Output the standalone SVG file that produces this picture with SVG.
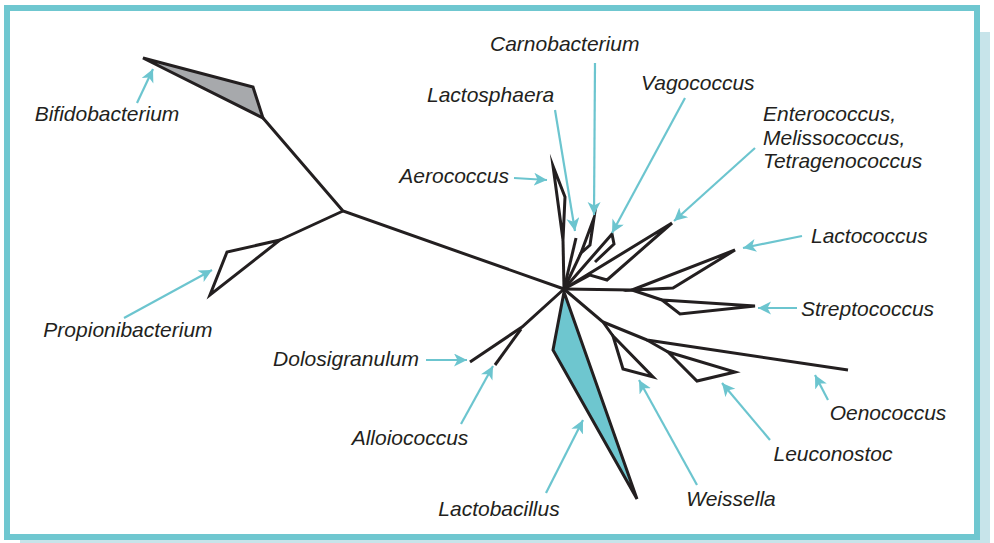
<svg xmlns="http://www.w3.org/2000/svg" width="994" height="543" viewBox="0 0 994 543">
<style>
.br{fill:none;stroke:#231f20;stroke-width:3;stroke-linejoin:miter;stroke-miterlimit:10}
.wd{fill:#fff;stroke:#231f20;stroke-width:3;stroke-linejoin:miter;stroke-miterlimit:10}
.lb{font-family:"Liberation Sans",Arial,Helvetica,sans-serif;font-style:italic;font-size:21px;fill:#231f20}
.m{text-anchor:middle}
.e{text-anchor:end}
.ar{fill:none;stroke:#6cc5cf;stroke-width:2.2;marker-end:url(#ah)}
</style>
<defs>
<marker id="ah" markerUnits="userSpaceOnUse" markerWidth="16" markerHeight="14" refX="13" refY="6.5" orient="auto">
<path d="M0,0 L13,6.5 L0,13 L3.5,6.5 Z" fill="#6cc5cf"/>
</marker>
</defs>
<rect width="994" height="543" fill="#fff"/>
<g id="frame">
<rect x="20" y="32" width="970" height="511" fill="#c7e4ea"/>
<rect x="7" y="8" width="970" height="529" fill="#fff" stroke="#6fc7d0" stroke-width="6"/>
</g>
<g id="trunk">
<polyline class="br" points="263,118 343,211 564,289"/>
<line class="br" x1="343" y1="211" x2="280" y2="240"/>
</g>
<g id="bifidobacterium">
<polygon points="143,58 253,87 263,118" fill="#a7a9ac" stroke="#231f20" stroke-width="3"/>
<text class="lb m" x="107" y="121">Bifidobacterium</text>
</g>
<g id="propionibacterium">
<polygon class="wd" points="280,240 227,252 210,295"/>
<text class="lb m" x="128" y="337">Propionibacterium</text>
</g>
<g id="aerococcus">
<line class="br" x1="564" y1="289" x2="563" y2="240"/>
<polygon class="wd" points="553,166 565,197 563,240"/>
<text class="lb e" x="509" y="183">Aerococcus</text>
</g>
<g id="lactosphaera">
<line class="br" x1="564" y1="289" x2="576" y2="238"/>
<text class="lb" x="427" y="102">Lactosphaera</text>
</g>
<g id="carnobacterium">
<line class="br" x1="564" y1="289" x2="581" y2="253"/>
<polygon class="wd" points="581,253 594,218 590,245"/>
<text class="lb" x="490" y="51">Carnobacterium</text>
</g>
<g id="vagococcus">
<polyline class="br" points="564,289 612,234 614,244 595,262"/>
<text class="lb" x="641" y="90">Vagococcus</text>
</g>
<g id="enterococcus">
<polygon class="wd" points="564,289 672,223 607,280 590,275"/>
<text class="lb" x="763" y="121">Enterococcus,</text>
<text class="lb" x="763" y="145">Melissococcus,</text>
<text class="lb" x="763" y="168">Tetragenococcus</text>
</g>
<g id="lactococcus">
<line class="br" x1="564" y1="289" x2="632" y2="290"/>
<polygon class="wd" points="632,290 735,250 673,288"/>
<text class="lb" x="811" y="243">Lactococcus</text>
</g>
<g id="streptococcus">
<line class="br" x1="632" y1="290" x2="662" y2="300"/>
<polygon class="wd" points="662,300 755,306 680,314"/>
<text class="lb" x="801" y="316">Streptococcus</text>
</g>
<g id="weissella">
<polyline class="br" points="564,289 603,322 613,336"/>
<polygon class="wd" points="613,336 623,369 653,377"/>
<text class="lb m" x="731" y="506">Weissella</text>
</g>
<g id="oenococcus">
<polyline class="br" points="603,322 647,340 848,370"/>
<text class="lb m" x="888" y="420">Oenococcus</text>
</g>
<g id="leuconostoc">
<line class="br" x1="647" y1="340" x2="668" y2="352"/>
<polygon class="wd" points="668,352 697,381 735,372"/>
<text class="lb m" x="833" y="461">Leuconostoc</text>
</g>
<g id="lactobacillus">
<polygon points="564,292 553,350 637,499" fill="#6ec6cf" stroke="#231f20" stroke-width="3" stroke-linejoin="miter"/>
<text class="lb m" x="499" y="516">Lactobacillus</text>
</g>
<g id="dolosigranulum">
<polyline class="br" points="564,289 522,327 470,362"/>
<text class="lb e" x="419" y="366">Dolosigranulum</text>
</g>
<g id="alloiococcus">
<line class="br" x1="521" y1="329" x2="495" y2="365"/>
<text class="lb m" x="410" y="445">Alloiococcus</text>
</g>
<g id="connectors">
<line class="ar" x1="137" y1="103" x2="153" y2="69"/>
<line class="ar" x1="124" y1="318" x2="212" y2="270"/>
<line class="ar" x1="514" y1="178" x2="547" y2="180"/>
<line class="ar" x1="555" y1="110" x2="575" y2="231"/>
<line class="ar" x1="595" y1="63" x2="594" y2="215"/>
<line class="ar" x1="685" y1="98" x2="612" y2="233"/>
<line class="ar" x1="755" y1="148" x2="674" y2="221"/>
<line class="ar" x1="802" y1="236" x2="743" y2="248"/>
<line class="ar" x1="797" y1="308" x2="758" y2="308"/>
<line class="ar" x1="828" y1="400" x2="815" y2="375"/>
<line class="ar" x1="770" y1="440" x2="722" y2="383"/>
<line class="ar" x1="697" y1="485" x2="639" y2="380"/>
<line class="ar" x1="546" y1="493" x2="583" y2="420"/>
<line class="ar" x1="461" y1="424" x2="493" y2="366"/>
<line class="ar" x1="426" y1="360" x2="467" y2="360"/>
</g>
</svg>
